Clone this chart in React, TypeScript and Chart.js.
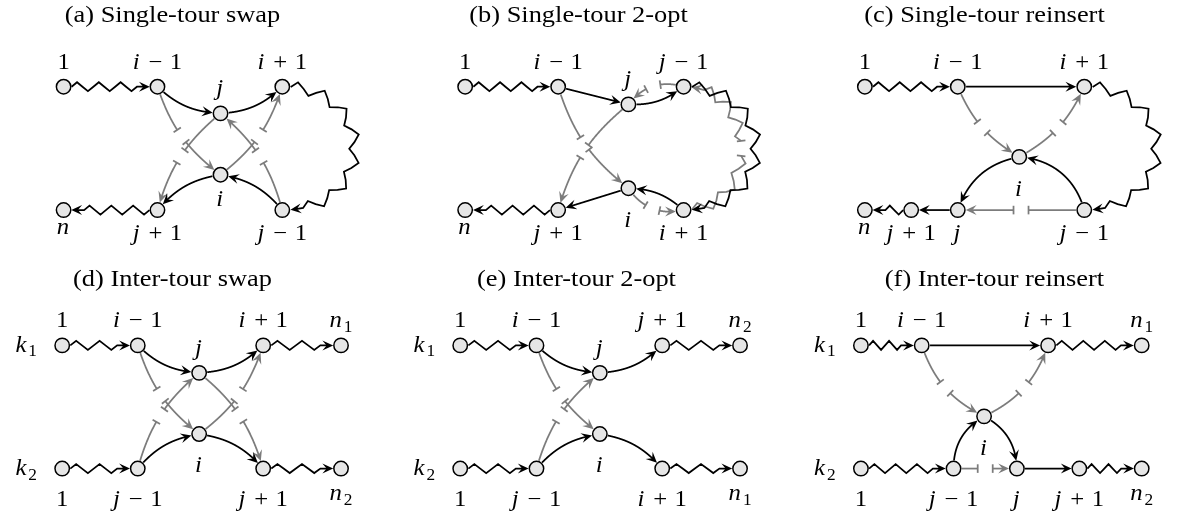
import React, { useEffect, useRef } from "react";
import { Chart, registerables } from "chart.js";

Chart.register(...registerables);

const W = 1178;
const H = 523;

// ---------------- (a) Single-tour swap ----------------
const aIds = ["1", "i-1", "i+1", "j", "i", "n", "j+1", "j-1"];
const aX = [55.7, 151, 277.7, 215, 215, 55.7, 151, 277.7];
const aY = [80.7, 80.7, 80.7, 108.3, 171.7, 208.3, 208.3, 208.3];
const aLabels = [["1", "1", "above"], ["i-1", "i-1", "above"], ["i+1", "i+1", "above"], ["j", "j", "above"], ["i", "i", "belowI"], ["n", "n", "below"], ["j+1", "j+1", "below"], ["j-1", "j-1", "below"]];
const aEdges: any[] = [
  ["1", "i-1", "z", 0], ["i-1", "j", "c", 20], ["j", "i+1", "c", 20], ["i+1", "j-1", "Z", -90, 2.0],
  ["j-1", "i", "c", 20], ["i", "j+1", "c", 20], ["j+1", "n", "z", 0],
  ["i-1", "i", "g", 17], ["j", "j+1", "g", 17], ["j-1", "j", "g", 17], ["i", "i+1", "g", 17],
];

// ---------------- (b) Single-tour 2-opt ----------------
const bIds = ["1", "i-1", "j", "j-1", "i", "i+1", "j+1", "n"];
const bX = [463.3, 557.7, 629, 685, 629, 685, 557.7, 463.3];
const bY = [80.7, 80.7, 99, 80.7, 185.7, 208.3, 208.3, 208.3];
const bLabels = [["1", "1", "above"], ["i-1", "i-1", "above"], ["j", "j", "above"], ["j-1", "j-1", "above"], ["i", "i", "belowI"], ["i+1", "i+1", "below"], ["j+1", "j+1", "below"], ["n", "n", "below"]];
const bEdges: any[] = [
  ["1", "i-1", "z", 0], ["i-1", "j", "c", 0], ["j", "j-1", "c", 20], ["j-1", "i+1", "Z", -90, 2.0],
  ["i+1", "i", "c", 20], ["i", "j+1", "c", 0], ["j+1", "n", "z", 0],
  ["i-1", "i", "g", 17], ["j", "j+1", "g", 17], ["j-1", "j", "g", 35], ["i", "i+1", "g", 35], ["i+1", "j-1", "gZ", 90, 1.6],
];

// ---------------- (c) Single-tour reinsert ----------------
const cIds = ["1", "i-1", "i+1", "i", "n", "j+1", "j", "j-1"];
const cX = [869, 963.3, 1091.7, 1025.7, 869, 916, 963.3, 1091.7];
const cY = [80.7, 80.7, 80.7, 153.3, 208.3, 208.3, 208.3, 208.3];
const cLabels = [["1", "1", "above"], ["i-1", "i-1", "above"], ["i+1", "i+1", "above"], ["i", "i", "belowI"], ["n", "n", "below"], ["j+1", "j+1", "below"], ["j", "j", "below"], ["j-1", "j-1", "below"]];
const cEdges: any[] = [
  ["1", "i-1", "z", 0], ["i-1", "i+1", "c", 0], ["i+1", "j-1", "Z", -90, 2.0], ["j-1", "i", "c", 35],
  ["i", "j", "c", 30], ["j", "j+1", "c", 0], ["j+1", "n", "z", 0],
  ["i-1", "i", "g", 18], ["i", "i+1", "g", 18], ["j-1", "j", "g", 0],
];

// ---------------- (d) Inter-tour swap ----------------
const dIds = ["s1", "i-1", "j", "i+1", "e1", "s2", "j-1", "i", "j+1", "e2"];
const dX = [54.3, 131, 193.3, 258.3, 337.3, 54.3, 131, 193.3, 258.3, 337.3];
const dY = [348.3, 348.3, 376.7, 348.3, 348.3, 475.7, 475.7, 440, 475.7, 475.7];
const dLabels = [["s1", "1", "above"], ["s1", "k_1", "left"], ["i-1", "i-1", "above"], ["j", "j", "above"], ["i+1", "i+1", "above"], ["e1", "n_1", "above"], ["s2", "1", "below"], ["s2", "k_2", "left"], ["j-1", "j-1", "below"], ["i", "i", "belowI"], ["j+1", "j+1", "below"], ["e2", "n_2", "below"]];
const dEdges: any[] = [
  ["s1", "i-1", "z", 0], ["i-1", "j", "c", 20], ["j", "i+1", "c", 20], ["i+1", "e1", "z", 0],
  ["s2", "j-1", "z", 0], ["j-1", "i", "c", -20], ["i", "j+1", "c", -20], ["j+1", "e2", "z", 0],
  ["i-1", "i", "g", 17], ["j-1", "j", "g", -17], ["j", "j+1", "g", -17], ["i", "i+1", "g", 17],
];

// ---------------- (e) Inter-tour 2-opt ----------------
const eIds = ["s1", "i-1", "j", "j+1", "e1", "s2", "j-1", "i", "i+1", "e2"];
const eX = [458.3, 535.7, 600, 663.3, 742.3, 458.3, 535.7, 600, 663.3, 742.3];
const eY = [348.3, 348.3, 376.7, 348.3, 348.3, 475.7, 475.7, 440, 475.7, 475.7];
const eLabels = [["s1", "1", "above"], ["s1", "k_1", "left"], ["i-1", "i-1", "above"], ["j", "j", "above"], ["j+1", "j+1", "above"], ["e1", "n_2", "above"], ["s2", "1", "below"], ["s2", "k_2", "left"], ["j-1", "j-1", "below"], ["i", "i", "belowI"], ["i+1", "i+1", "below"], ["e2", "n_1", "below"]];
const eEdges: any[] = [
  ["s1", "i-1", "z", 0], ["i-1", "j", "c", 20], ["j", "j+1", "c", 20], ["j+1", "e1", "z", 0],
  ["s2", "j-1", "z", 0], ["j-1", "i", "c", -20], ["i", "i+1", "c", -20], ["i+1", "e2", "z", 0],
  ["i-1", "i", "g", 17], ["j-1", "j", "g", -17],
];

// ---------------- (f) Inter-tour reinsert ----------------
const fIds = ["s1", "i-1", "i+1", "e1", "i", "s2", "j-1", "j", "j+1", "e2"];
const fX = [865, 926.7, 1055, 1150, 990, 865, 959, 1023.3, 1086.7, 1150];
const fY = [348.3, 348.3, 348.3, 348.3, 421.7, 475.7, 475.7, 475.7, 475.7, 475.7];
const fLabels = [["s1", "1", "above"], ["s1", "k_1", "left"], ["i-1", "i-1", "above"], ["i+1", "i+1", "above"], ["e1", "n_1", "above"], ["i", "i", "belowI"], ["s2", "1", "below"], ["s2", "k_2", "left"], ["j-1", "j-1", "below"], ["j", "j", "below"], ["j+1", "j+1", "below"], ["e2", "n_2", "below"]];
const fEdges: any[] = [
  ["s1", "i-1", "z", 0], ["i-1", "i+1", "c", 0], ["i+1", "e1", "z", 0],
  ["s2", "j-1", "z", 0], ["j-1", "i", "c", -30], ["i", "j", "c", -30], ["j", "j+1", "c", 0], ["j+1", "e2", "z", 0],
  ["i-1", "i", "g", 22], ["i", "i+1", "g", 22], ["j-1", "j", "g", 0],
];

const titles = [
  "(a) Single-tour swap", "(b) Single-tour 2-opt", "(c) Single-tour reinsert",
  "(d) Inter-tour swap", "(e) Inter-tour 2-opt", "(f) Inter-tour reinsert",
];

// layout (positions of texts, styling) — not data
const LAYOUT = [
  { tx: 172.5, ty: 22, belowTop: 14.2, iBelow: 31 },
  { tx: 578.5, ty: 22, belowTop: 14.2, iBelow: 38.5 },
  { tx: 984.5, ty: 22, belowTop: 14.2, iBelow: 39 },
  { tx: 172.5, ty: 286, belowTop: 21.8, iBelow: 37.5 },
  { tx: 576.5, ty: 286, belowTop: 21.8, iBelow: 37.5 },
  { tx: 994.5, ty: 286, belowTop: 21.8, iBelow: 38.8 },
];

const PANELS = [
  { ids: aIds, xs: aX, ys: aY, labels: aLabels, edges: aEdges },
  { ids: bIds, xs: bX, ys: bY, labels: bLabels, edges: bEdges },
  { ids: cIds, xs: cX, ys: cY, labels: cLabels, edges: cEdges },
  { ids: dIds, xs: dX, ys: dY, labels: dLabels, edges: dEdges },
  { ids: eIds, xs: eX, ys: eY, labels: eLabels, edges: eEdges },
  { ids: fIds, xs: fX, ys: fY, labels: fLabels, edges: fEdges },
];

const FAM = "'Liberation Serif','Times New Roman',serif";
const SX = 1.1;
const LABEL_SIZE = 22.5;
const TITLE_SIZE = 24;
const NODE_R = 7.2;
const NODE_OUT = 8.0;
const GRAY = "#7c7c7c";
const LW = 1.75;
const AL = 10.5;
const AW = 5;
const GAP = 15;
const TEE = 4.3;

type P = { x: number; y: number };

function buildPath(A: P, B: P, bend: number, loose: number) {
  const dx = B.x - A.x, dy = B.y - A.y;
  const L = Math.hypot(dx, dy);
  const ux = dx / L, uy = dy / L;
  const th = (bend * Math.PI) / 180;
  const d = 0.3915 * L * (loose || 1);
  const rot = (a: number) => ({ x: ux * Math.cos(a) - uy * Math.sin(a), y: ux * Math.sin(a) + uy * Math.cos(a) });
  const o = rot(th), inn = rot(-th);
  const c1 = { x: A.x + d * o.x, y: A.y + d * o.y };
  const c2 = { x: B.x - d * inn.x, y: B.y - d * inn.y };
  const pts: P[] = [];
  const N = 400;
  for (let k = 0; k <= N; k++) {
    const t = k / N, m = 1 - t;
    pts.push({
      x: m * m * m * A.x + 3 * m * m * t * c1.x + 3 * m * t * t * c2.x + t * t * t * B.x,
      y: m * m * m * A.y + 3 * m * m * t * c1.y + 3 * m * t * t * c2.y + t * t * t * B.y,
    });
  }
  const cum = [0];
  for (let k = 1; k < pts.length; k++) cum.push(cum[k - 1] + Math.hypot(pts[k].x - pts[k - 1].x, pts[k].y - pts[k - 1].y));
  let s0 = 0, s1 = cum[cum.length - 1];
  for (let k = 0; k < pts.length; k++) {
    if (Math.hypot(pts[k].x - A.x, pts[k].y - A.y) >= NODE_OUT) { s0 = cum[k]; break; }
  }
  for (let k = pts.length - 1; k >= 0; k--) {
    if (Math.hypot(pts[k].x - B.x, pts[k].y - B.y) >= NODE_OUT) { s1 = cum[k]; break; }
  }
  return { pts, cum, s0, s1 };
}

function pointAt(path: any, s: number) {
  const { pts, cum } = path;
  if (s <= 0) s = 0;
  const total = cum[cum.length - 1];
  if (s >= total) s = total;
  let lo = 0, hi = cum.length - 1;
  while (hi - lo > 1) {
    const mid = (lo + hi) >> 1;
    if (cum[mid] <= s) lo = mid; else hi = mid;
  }
  const segL = cum[hi] - cum[lo] || 1e-9;
  const f = (s - cum[lo]) / segL;
  const a = pts[lo], b = pts[hi];
  const tx = (b.x - a.x) / segL, ty = (b.y - a.y) / segL;
  return { x: a.x + (b.x - a.x) * f, y: a.y + (b.y - a.y) * f, tx, ty };
}

function subPts(path: any, s0: number, s1: number) {
  const out: P[] = [pointAt(path, s0)];
  for (let k = 0; k < path.cum.length; k++) {
    if (path.cum[k] > s0 && path.cum[k] < s1) out.push(path.pts[k]);
  }
  out.push(pointAt(path, s1));
  return out;
}

function zigPts(path: any, s0: number, s1: number, seg: number, amp: number) {
  const avail = s1 - s0;
  const n = Math.max(1, Math.round(avail / seg));
  const sl = avail / n;
  const pattern = [0, amp, 0, -amp];
  const out: P[] = [];
  for (let k = 0; k <= 4 * n; k++) {
    const s = s0 + (k * sl) / 4;
    const p = pointAt(path, s);
    const off = pattern[k % 4];
    out.push({ x: p.x + off * p.ty, y: p.y - off * p.tx });
  }
  return out;
}

function strokePts(ctx: CanvasRenderingContext2D, pts: P[]) {
  ctx.beginPath();
  ctx.moveTo(pts[0].x, pts[0].y);
  for (let k = 1; k < pts.length; k++) ctx.lineTo(pts[k].x, pts[k].y);
  ctx.stroke();
}

function arrowHead(ctx: CanvasRenderingContext2D, path: any, sTip: number) {
  const T = pointAt(path, sTip);
  const Bk = pointAt(path, sTip - AL);
  let dx = T.x - Bk.x, dy = T.y - Bk.y;
  const l = Math.hypot(dx, dy) || 1;
  dx /= l; dy /= l;
  const nx = -dy, ny = dx;
  const bx = T.x - AL * dx, by = T.y - AL * dy;
  ctx.beginPath();
  ctx.moveTo(T.x + 0.3 * dx, T.y + 0.3 * dy);
  ctx.lineTo(bx + AW * nx, by + AW * ny);
  ctx.lineTo(T.x - 0.6 * AL * dx, T.y - 0.6 * AL * dy);
  ctx.lineTo(bx - AW * nx, by - AW * ny);
  ctx.closePath();
  ctx.fill();
}

function tee(ctx: CanvasRenderingContext2D, path: any, s: number) {
  const p = pointAt(path, s);
  ctx.beginPath();
  ctx.moveTo(p.x - TEE * p.ty, p.y + TEE * p.tx);
  ctx.lineTo(p.x + TEE * p.ty, p.y - TEE * p.tx);
  ctx.stroke();
}

function drawEdge(ctx: CanvasRenderingContext2D, pos: Record<string, P>, e: any[]) {
  const [from, to, kind, bend, loose] = e;
  const path = buildPath(pos[from], pos[to], bend, loose || 1);
  const { s0, s1 } = path;
  const gray = kind[0] === "g";
  ctx.strokeStyle = gray ? GRAY : "#000";
  ctx.fillStyle = gray ? GRAY : "#000";
  ctx.lineWidth = LW;
  ctx.lineJoin = "miter";
  ctx.lineCap = "butt";
  const isZ = kind === "z" || kind === "Z" || kind === "gZ";
  const seg = kind === "z" ? 20 : 26;
  const amp = kind === "z" ? 4.5 : 5.5;
  if (!gray) {
    if (isZ) {
      const zEnd = s1 - AL - 2;
      const zp = zigPts(path, s0, zEnd, seg, amp);
      zp.push(pointAt(path, s1 - AL * 0.5));
      strokePts(ctx, zp);
    } else {
      strokePts(ctx, subPts(path, s0, s1 - AL * 0.5));
    }
    arrowHead(ctx, path, s1);
  } else {
    const mid = (s0 + s1) / 2;
    const g1 = mid - GAP / 2, g2 = mid + GAP / 2;
    if (isZ) {
      strokePts(ctx, zigPts(path, s0, g1, seg, amp));
      const zp = zigPts(path, g2, s1 - AL - 2, seg, amp);
      zp.push(pointAt(path, s1 - AL * 0.5));
      strokePts(ctx, zp);
    } else {
      strokePts(ctx, subPts(path, s0, g1));
      strokePts(ctx, subPts(path, g2, s1 - AL * 0.5));
    }
    tee(ctx, path, g1);
    tee(ctx, path, g2);
    arrowHead(ctx, path, s1);
  }
}

function mathItems(s: string) {
  const items: any[] = [];
  for (let k = 0; k < s.length; k++) {
    const ch = s[k];
    if (ch === "_") { items.push({ t: s[k + 1], sub: true }); k++; continue; }
    if (ch === "-" || ch === "+") { items.push({ t: ch === "-" ? "\u2212" : "+", op: true }); continue; }
    if (/[a-z]/.test(ch)) items.push({ t: ch, it: true });
    else items.push({ t: ch });
  }
  return items;
}

function drawMath(ctx: CanvasRenderingContext2D, s: string, cx: number, base: number, size: number) {
  const items = mathItems(s);
  let w = 0;
  items.forEach((it) => {
    const fs = it.sub ? size * 0.7 : size;
    it.font = (it.it ? "italic " : "") + fs + "px " + FAM;
    ctx.font = it.font;
    it.w = ctx.measureText(it.t).width;
    it.pre = it.op ? size * 0.3 : it.sub ? size * 0.02 : 0;
    it.post = it.op ? size * 0.3 : it.it ? size * 0.06 : 0;
    w += it.pre + it.w + it.post;
  });
  ctx.save();
  ctx.translate(cx, base);
  ctx.scale(SX, 1);
  let x = -w / 2;
  ctx.fillStyle = "#000";
  ctx.textBaseline = "alphabetic";
  ctx.textAlign = "left";
  items.forEach((it) => {
    x += it.pre;
    ctx.font = it.font;
    ctx.fillText(it.t, x, it.sub ? size * 0.2 : 0);
    x += it.w + it.post;
  });
  ctx.restore();
}

function labelHeight(s: string) {
  const main = s.split("_")[0];
  return /[0-9ijk]/.test(main) ? 0.68 : 0.45;
}

const diagramPlugin = {
  id: "diagram",
  beforeDatasetsDraw(chart: any) {
    const ctx = chart.ctx as CanvasRenderingContext2D;
    const xs = chart.scales.x, ys = chart.scales.y;
    ctx.save();
    PANELS.forEach((p) => {
      const pos: Record<string, P> = {};
      p.ids.forEach((id, k) => { pos[id] = { x: xs.getPixelForValue(p.xs[k]), y: ys.getPixelForValue(p.ys[k]) }; });
      p.edges.filter((e) => e[2][0] === "g").forEach((e) => drawEdge(ctx, pos, e));
      p.edges.filter((e) => e[2][0] !== "g").forEach((e) => drawEdge(ctx, pos, e));
    });
    ctx.restore();
  },
  afterDatasetsDraw(chart: any) {
    const ctx = chart.ctx as CanvasRenderingContext2D;
    const xs = chart.scales.x, ys = chart.scales.y;
    ctx.save();
    PANELS.forEach((p, pi) => {
      const lay = LAYOUT[pi];
      const pos: Record<string, P> = {};
      p.ids.forEach((id, k) => { pos[id] = { x: xs.getPixelForValue(p.xs[k]), y: ys.getPixelForValue(p.ys[k]) }; });
      p.labels.forEach(([id, text, side]) => {
        const n = pos[id];
        let x = n.x, b = n.y;
        if (side === "above") b = n.y - 18;
        else if (side === "below") b = n.y + lay.belowTop + labelHeight(text) * LABEL_SIZE;
        else if (side === "belowI") b = n.y + lay.iBelow;
        else if (side === "left") { x = n.x - 36; b = n.y + 6.5; }
        drawMath(ctx, text, x, b, LABEL_SIZE);
      });
      ctx.save();
      ctx.font = TITLE_SIZE + "px " + FAM;
      const tw = ctx.measureText(titles[pi]).width;
      ctx.translate(lay.tx, lay.ty);
      ctx.scale(SX, 1);
      ctx.fillStyle = "#000";
      ctx.textBaseline = "alphabetic";
      ctx.fillText(titles[pi], -tw / 2, 0);
      ctx.restore();
    });
    ctx.restore();
  },
};

export default function App() {
  const ref = useRef<HTMLCanvasElement | null>(null);
  useEffect(() => {
    document.body.style.margin = "0";
    const canvas = ref.current;
    if (!canvas) return;
    const datasets = PANELS.map((p, k) => ({
      label: titles[k],
      data: p.xs.map((x, i) => ({ x, y: p.ys[i] })),
      pointRadius: NODE_R,
      pointHoverRadius: NODE_R,
      pointBackgroundColor: "#e6e6e6",
      pointBorderColor: "#000",
      pointBorderWidth: 1.5,
      showLine: false,
    }));
    const chart = new Chart(canvas, {
      type: "scatter",
      data: { datasets },
      options: {
        animation: false,
        responsive: false,
        devicePixelRatio: 1,
        events: [],
        layout: { padding: 0 },
        plugins: { legend: { display: false }, tooltip: { enabled: false }, title: { display: false } },
        scales: {
          x: { type: "linear", min: 0, max: W, display: false },
          y: { type: "linear", min: 0, max: H, reverse: true, display: false },
        },
      },
      plugins: [diagramPlugin],
    } as any);
    return () => chart.destroy();
  }, []);
  return (
    <div style={{ width: W, height: H, position: "relative", background: "#fff" }}>
      <canvas ref={ref} width={W} height={H} style={{ position: "absolute", left: 0, top: 0 }} />
    </div>
  );
}
